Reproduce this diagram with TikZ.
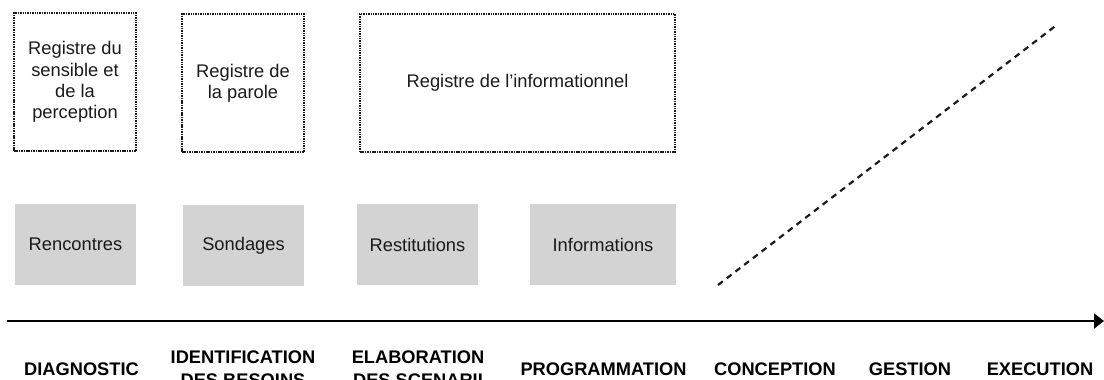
\documentclass[tikz,border=0pt]{standalone}
\usepackage{fontspec}
\setmainfont{Liberation Sans}
\usetikzlibrary{arrows.meta}
\definecolor{boxgray}{HTML}{D3D3D3}
\definecolor{ink}{HTML}{1A1A1A}
\tikzset{
  regbox/.style={draw=ink, line width=1.5pt, dash pattern=on 1.5pt off 0.9pt,
    align=center, text=ink, font=\fontsize{18.3}{21.3}\selectfont, inner sep=0pt},
  graybox/.style={fill=boxgray, draw=none, text=ink,
    font=\fontsize{18.3}{21}\selectfont, inner sep=0pt},
  phase/.style={anchor=base, inner sep=0pt, text=black,
    font=\fontsize{18.25}{23}\selectfont\bfseries},
  timeline/.style={line width=2pt, -{Triangle[length=10pt,width=15pt]}},
  trend/.style={line width=2.2pt, dash pattern=on 6pt off 5pt, draw=ink}
}
\newcommand{\twolines}[2]{\def\arraystretch{1}\begin{tabular}[t]{@{}c@{}}#1\\#2\end{tabular}}
\begin{document}
\begin{tikzpicture}[x=1pt,y=-1pt]
\useasboundingbox (0,0) rectangle (1104,380);
% top registers
\node[regbox, minimum width=122pt, minimum height=138pt] (reg1) at (75,82)
  {Registre du\\sensible et\\de la\\perception};
\node[regbox, minimum width=122pt, minimum height=138pt] (reg2) at (243,83)
  {Registre de\\la parole};
\node[regbox, minimum width=315pt, minimum height=138pt] (reg3) at (517.5,83)
  {Registre de l’informationnel};
% gray boxes
\node[graybox, minimum width=121pt, minimum height=81pt] (g1) at (75.5,244.5) {Rencontres};
\node[graybox, minimum width=121pt, minimum height=81pt] (g2) at (243.5,245.5) {Sondages};
\node[graybox, minimum width=121pt, minimum height=81pt] (g3) at (417.5,244.5) {Restitutions};
\node[graybox, minimum width=146pt, minimum height=81pt] (g4) at (603,244.5) {Informations};
% dashed trend line
\coordinate (d1) at (718,285);
\coordinate (d2) at (1058,24);
\draw[trend] (d1) -- (d2);
% timeline arrow
\coordinate (a1) at (7,321);
\coordinate (a2) at (1104,321);
\draw[timeline] (a1) -- (a2);
% phases
\node[phase] (p1) at (81.5,375) {DIAGNOSTIC};
\node[phase] (p2) at (243,363.5) {\twolines{IDENTIFICATION}{DES BESOINS}};
\node[phase] (p3) at (418,363.5) {\twolines{ELABORATION}{DES SCENARII}};
\node[phase] (p4) at (603.5,375) {PROGRAMMATION};
\node[phase] (p5) at (775,375) {CONCEPTION};
\node[phase] (p6) at (910,375) {GESTION};
\node[phase] (p7) at (1040,375) {EXECUTION};
\end{tikzpicture}
\end{document}
